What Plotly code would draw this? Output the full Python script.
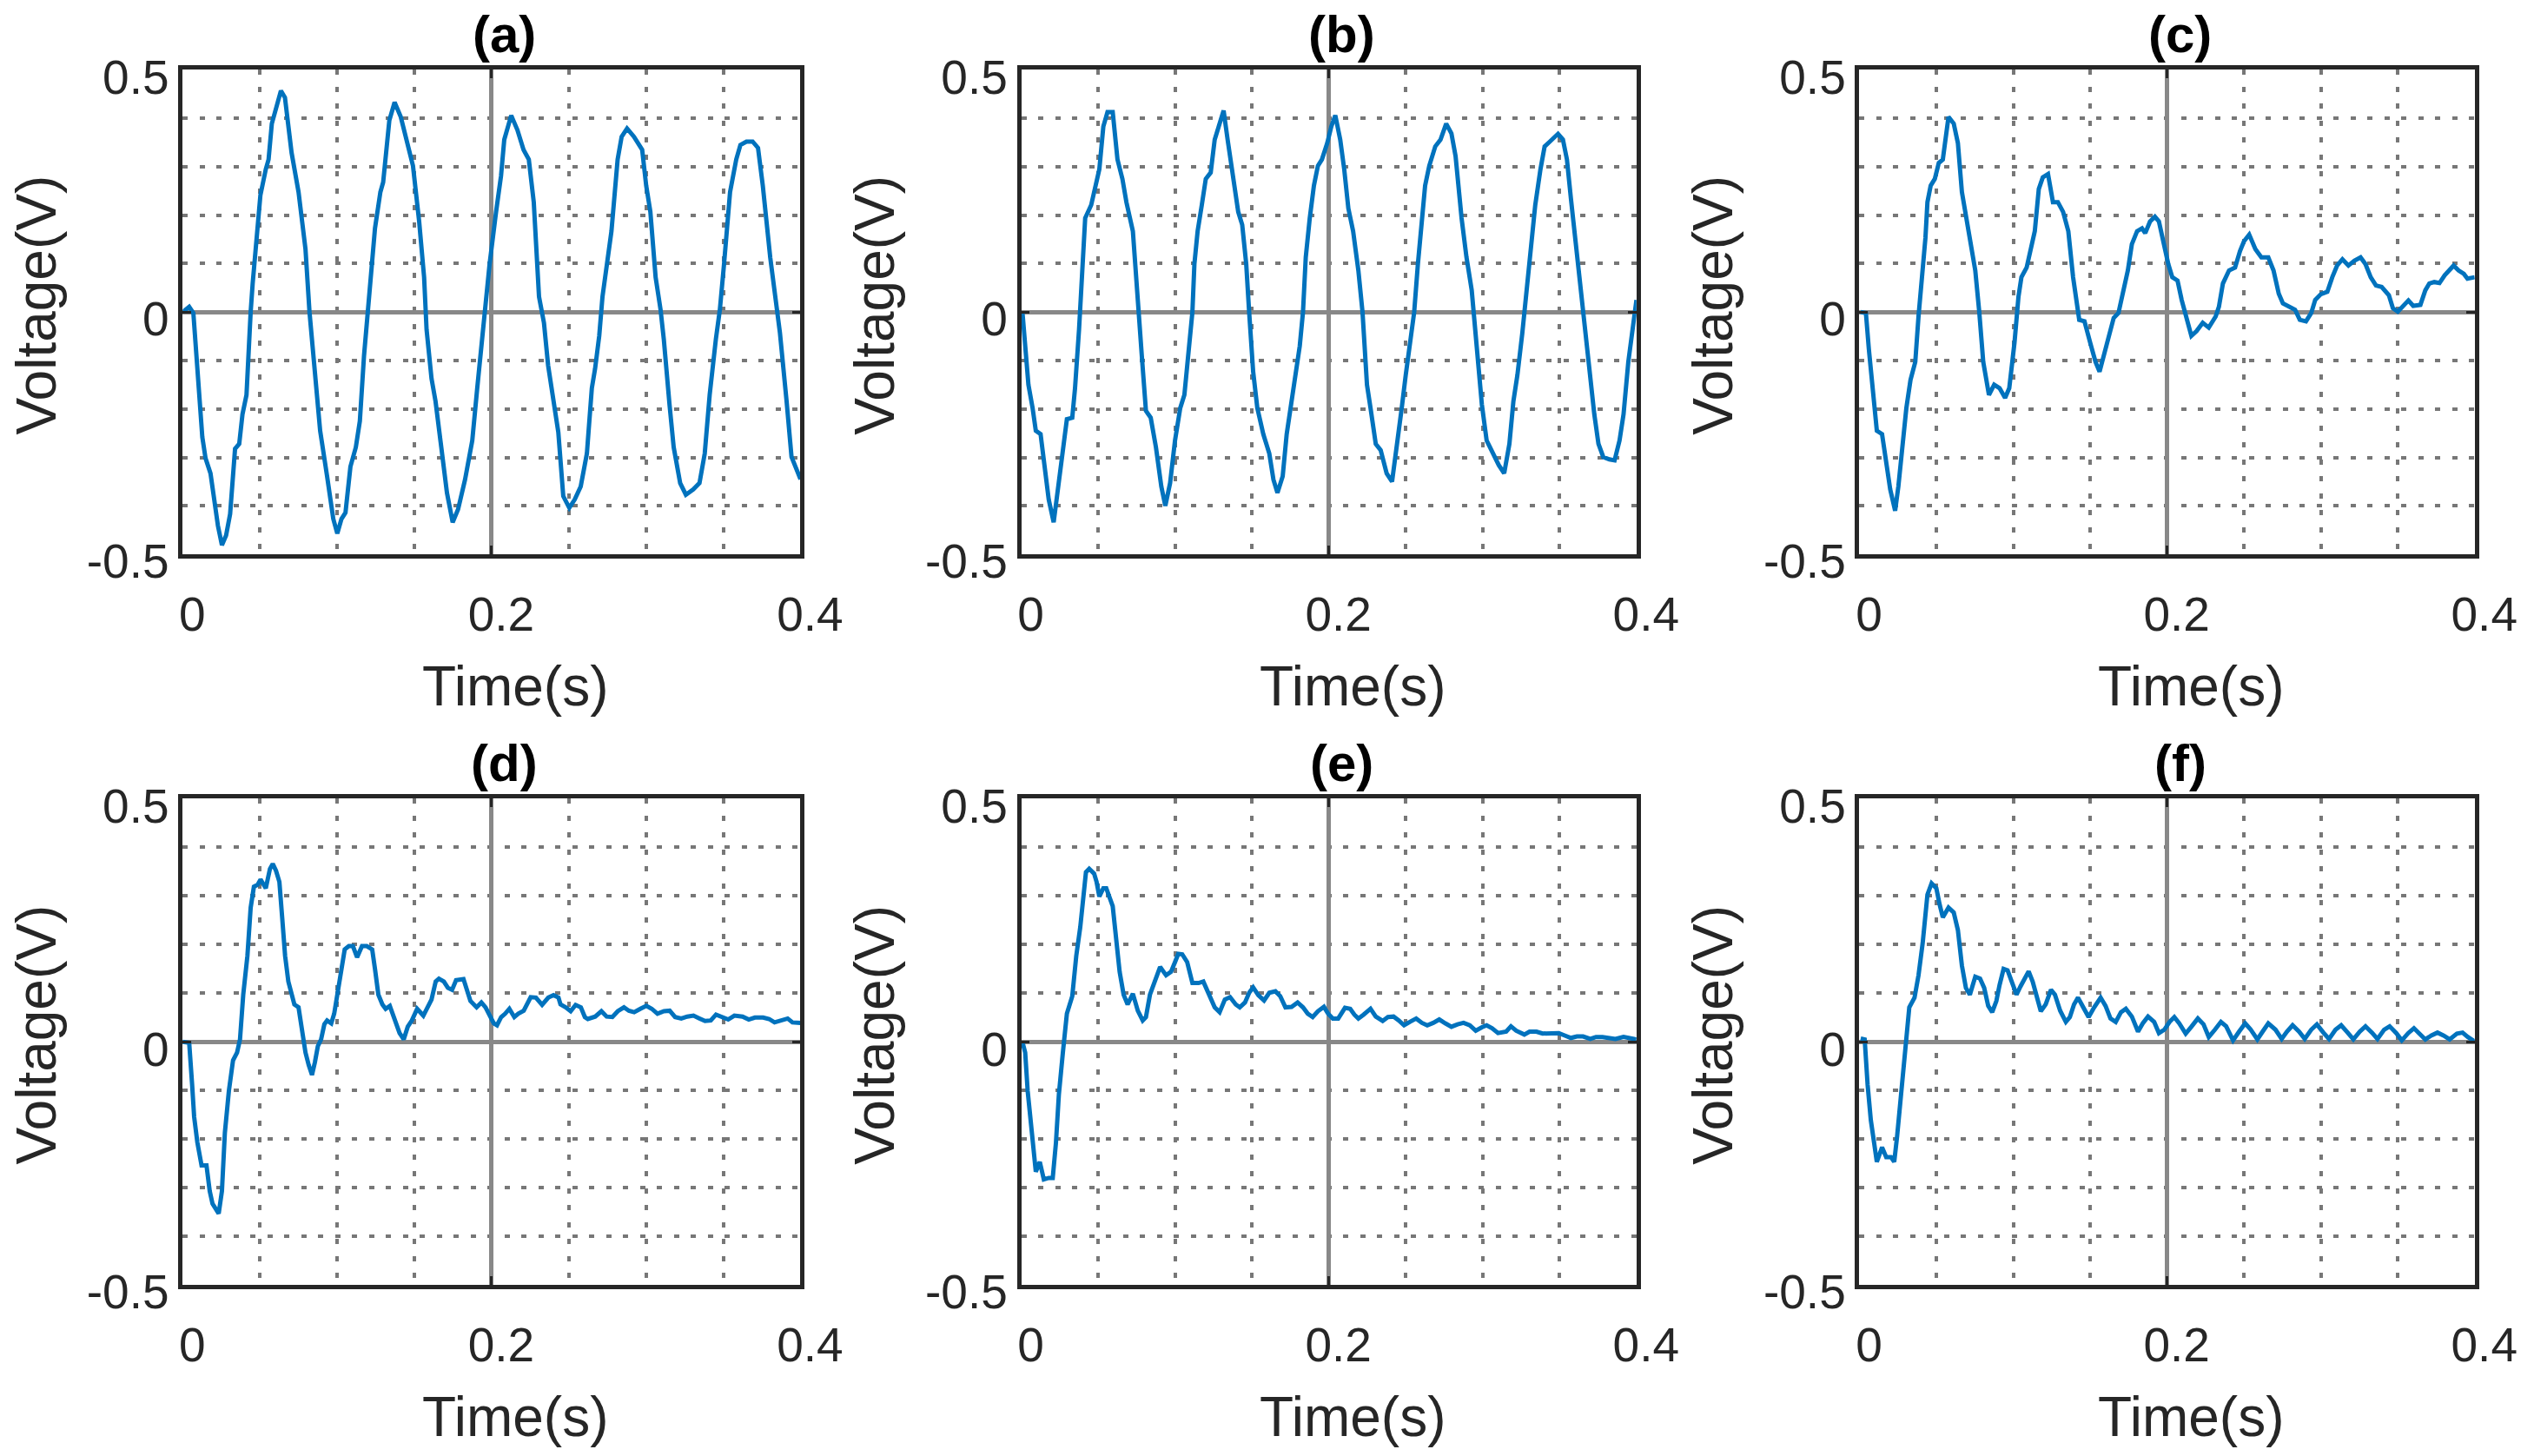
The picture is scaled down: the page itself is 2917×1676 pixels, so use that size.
import plotly.graph_objects as go

# ---------------- data: (time s, voltage V) ----------------
panel_a = [(0,0),(0.0042,0.011),(0.0069,-0.002),(0.0087,-0.076),(0.0106,-0.171),(0.0127,-0.258),
(0.0148,-0.302),(0.0180,-0.333),(0.0201,-0.380),(0.0228,-0.441),(0.0254,-0.481),(0.0281,-0.461),
(0.0307,-0.417),(0.0339,-0.282),(0.0366,-0.272),(0.0387,-0.211),(0.0413,-0.171),(0.0426,-0.076),
(0.0440,0),(0.0453,0.059),(0.0472,0.126),(0.0493,0.200),(0.0503,0.241),(0.0538,0.295),(0.0556,0.315),
(0.0577,0.389),(0.0604,0.423),(0.0636,0.457),(0.0662,0.443),(0.0705,0.329),(0.0750,0.248),(0.0795,0.130),
(0.0821,0),(0.0856,-0.117),(0.0890,-0.245),(0.0935,-0.339),(0.0975,-0.427),(0.1001,-0.457),(0.1028,-0.427),
(0.1054,-0.414),(0.1086,-0.319),(0.1121,-0.279),(0.1147,-0.225),(0.1174,-0.090),(0.1200,0),(0.1219,0.086),
(0.1245,0.173),(0.1280,0.248),(0.1298,0.268),(0.1338,0.396),(0.1372,0.433),(0.1412,0.403),(0.1446,0.356),
(0.1491,0.302),(0.1531,0.187),(0.1563,0.072),(0.1579,-0.036),(0.1611,-0.137),(0.1637,-0.184),(0.1677,-0.292),
(0.1711,-0.373),(0.1748,-0.434),(0.1783,-0.407),(0.1828,-0.346),(0.1875,-0.265),(0.1907,-0.157),(0.1934,-0.063),
(0.1955,0),(0.1987,0.099),(0.2029,0.207),(0.2061,0.281),(0.2082,0.356),(0.2127,0.406),(0.2167,0.376),
(0.2207,0.335),(0.2241,0.315),(0.2273,0.227),(0.2307,0.032),(0.2339,-0.022),(0.2366,-0.110),(0.2405,-0.184),
(0.2432,-0.248),(0.2464,-0.380),(0.2503,-0.404),(0.2538,-0.387),(0.2577,-0.360),(0.2617,-0.292),(0.2649,-0.157),
(0.2670,-0.117),(0.2697,-0.049),(0.2718,0.032),(0.2744,0.099),(0.2776,0.167),(0.2816,0.315),(0.2842,0.362),
(0.2877,0.379),(0.2922,0.362),(0.2975,0.335),(0.3001,0.261),(0.3028,0.207),(0.3062,0.072),(0.3094,0.005),
(0.3115,-0.056),(0.3152,-0.191),(0.3179,-0.279),(0.3221,-0.353),(0.3258,-0.377),(0.3306,-0.366),(0.3346,-0.353),
(0.3380,-0.292),(0.3412,-0.171),(0.3452,-0.056),(0.3478,0.005),(0.3505,0.099),(0.3544,0.248),(0.3584,0.315),
(0.3611,0.345),(0.3650,0.352),(0.3690,0.352),(0.3725,0.339),(0.3756,0.261),(0.3804,0.113),(0.3836,0.032),
(0.3867,-0.043),(0.3910,-0.184),(0.3942,-0.299),(0.4000,-0.345)]

panel_b = [(0.0008,0),(0.0026,-0.063),(0.0047,-0.150),(0.0074,-0.198),(0.0095,-0.245),(0.0126,-0.252),
(0.0153,-0.326),(0.0179,-0.387),(0.0211,-0.434),(0.0232,-0.380),(0.0263,-0.312),(0.0297,-0.221),(0.0332,-0.218),
(0.0350,-0.157),(0.0376,-0.036),(0.0395,0.072),(0.0416,0.194),(0.0455,0.221),(0.0482,0.261),(0.0508,0.295),
(0.0534,0.383),(0.0561,0.413),(0.0595,0.413),(0.0626,0.315),(0.0658,0.275),(0.0684,0.227),(0.0726,0.167),
(0.0745,0.079),(0.0758,0),(0.0784,-0.090),(0.0811,-0.204),(0.0842,-0.218),(0.0876,-0.279),(0.0911,-0.360),
(0.0937,-0.400),(0.0968,-0.353),(0.1000,-0.265),(0.1034,-0.198),(0.1061,-0.171),(0.1087,-0.090),(0.1113,0),
(0.1126,0.099),(0.1147,0.167),(0.1174,0.221),(0.1200,0.275),(0.1232,0.288),(0.1258,0.356),(0.1284,0.383),
(0.1316,0.416),(0.1342,0.356),(0.1376,0.281),(0.1411,0.207),(0.1437,0.180),(0.1463,0.099),(0.1482,0),
(0.1508,-0.123),(0.1535,-0.198),(0.1574,-0.252),(0.1613,-0.292),(0.1640,-0.346),(0.1666,-0.373),(0.1700,-0.339),
(0.1726,-0.252),(0.1758,-0.184),(0.1784,-0.117),(0.1811,-0.070),(0.1832,0),(0.1850,0.113),(0.1876,0.194),
(0.1903,0.261),(0.1929,0.302),(0.1955,0.315),(0.1990,0.349),(0.2016,0.383),(0.2042,0.406),(0.2074,0.356),
(0.2100,0.295),(0.2127,0.214),(0.2158,0.167),(0.2192,0.086),(0.2219,0),(0.2232,-0.076),(0.2248,-0.150),
(0.2271,-0.198),(0.2305,-0.272),(0.2337,-0.285),(0.2376,-0.333),(0.2411,-0.350),(0.2437,-0.292),(0.2474,-0.198),
(0.2500,-0.130),(0.2534,-0.056),(0.2555,0),(0.2579,0.099),(0.2605,0.194),(0.2626,0.261),(0.2653,0.302),
(0.2692,0.342),(0.2726,0.356),(0.2763,0.389),(0.2797,0.369),(0.2824,0.322),(0.2863,0.194),(0.2895,0.113),
(0.2929,0.045),(0.2942,0),(0.2968,-0.090),(0.2995,-0.191),(0.3026,-0.265),(0.3074,-0.299),(0.3105,-0.316),
(0.3140,-0.333),(0.3174,-0.272),(0.3200,-0.184),(0.3226,-0.130),(0.3258,-0.043),(0.3271,0),(0.3290,0.052),
(0.3316,0.126),(0.3342,0.221),(0.3376,0.295),(0.3403,0.342),(0.3437,0.352),(0.3490,0.368),(0.3522,0.356),
(0.3548,0.315),(0.3574,0.234),(0.3606,0.140),(0.3632,0.072),(0.3658,0),(0.3679,-0.063),(0.3700,-0.144),
(0.3726,-0.211),(0.3753,-0.272),(0.3784,-0.299),(0.3824,-0.304),(0.3858,-0.306),(0.3890,-0.265),(0.3916,-0.211),
(0.3947,-0.103),(0.3974,-0.036),(0.4000,0.025)]

panel_c = [(0.0008,0),(0.0042,-0.002),(0.0061,-0.076),(0.0087,-0.164),(0.0113,-0.245),(0.0147,-0.252),
(0.0174,-0.312),(0.0200,-0.366),(0.0232,-0.410),(0.0253,-0.360),(0.0279,-0.279),(0.0305,-0.198),(0.0332,-0.140),
(0.0363,-0.103),(0.0384,-0.009),(0.0403,0.059),(0.0429,0.153),(0.0442,0.227),(0.0463,0.261),(0.0490,0.275),
(0.0516,0.308),(0.0542,0.315),(0.0561,0.362),(0.0579,0.403),(0.0613,0.389),(0.0640,0.349),(0.0666,0.248),
(0.0692,0.200),(0.0726,0.140),(0.0753,0.086),(0.0779,0),(0.0805,-0.103),(0.0842,-0.171),(0.0876,-0.150),
(0.0911,-0.157),(0.0947,-0.177),(0.0974,-0.157),(0.1008,-0.063),(0.1034,0.032),(0.1053,0.072),(0.1087,0.092),
(0.1113,0.126),(0.1140,0.167),(0.1166,0.254),(0.1192,0.278),(0.1226,0.285),(0.1258,0.227),(0.1290,0.227),
(0.1324,0.207),(0.1358,0.167),(0.1389,0.072),(0.1429,-0.016),(0.1463,-0.019),(0.1500,-0.063),(0.1535,-0.103),
(0.1561,-0.123),(0.1595,-0.083),(0.1626,-0.049),(0.1653,-0.012),(0.1684,-0.002),(0.1718,0.045),(0.1745,0.086),
(0.1771,0.140),(0.1805,0.167),(0.1837,0.173),(0.1858,0.163),(0.1889,0.187),(0.1921,0.197),(0.1947,0.187),
(0.1982,0.133),(0.2008,0.099),(0.2034,0.072),(0.2068,0.065),(0.2095,0.025),(0.2132,-0.022),(0.2158,-0.049),
(0.2192,-0.039),(0.2232,-0.022),(0.2271,-0.032),(0.2316,-0.009),(0.2337,0.011),(0.2363,0.059),(0.2403,0.086),
(0.2442,0.092),(0.2474,0.126),(0.2500,0.146),(0.2534,0.160),(0.2574,0.130),(0.2613,0.113),(0.2658,0.113),
(0.2692,0.086),(0.2726,0.038),(0.2753,0.018),(0.2789,0.011),(0.2832,0.005),(0.2863,-0.016),(0.2903,-0.019),
(0.2937,-0.002),(0.2963,0.025),(0.3000,0.037),(0.3042,0.042),(0.3074,0.072),(0.3105,0.096),(0.3140,0.109),
(0.3179,0.096),(0.3218,0.106),(0.3258,0.113),(0.3290,0.099),(0.3324,0.072),(0.3358,0.055),(0.3395,0.052),
(0.3442,0.035),(0.3468,0.008),(0.3500,0.001),(0.3534,0.011),(0.3569,0.024),(0.3600,0.013),(0.3647,0.015),
(0.3679,0.045),(0.3705,0.059),(0.3737,0.062),(0.3771,0.060),(0.3805,0.076),(0.3837,0.086),(0.3863,0.096),
(0.3895,0.086),(0.3929,0.079),(0.3953,0.069),(0.4000,0.072)]

panel_d = [(0,0),(0.0042,-0.002),(0.0061,-0.088),(0.0074,-0.154),(0.0095,-0.207),(0.0122,-0.254),
(0.0154,-0.254),(0.0175,-0.307),(0.0193,-0.333),(0.0233,-0.353),(0.0254,-0.307),(0.0273,-0.187),(0.0299,-0.101),
(0.0326,-0.038),(0.0352,-0.022),(0.0371,0.005),(0.0392,0.097),(0.0419,0.177),(0.0440,0.276),(0.0461,0.319),
(0.0485,0.323),(0.0504,0.334),(0.0519,0.326),(0.0538,0.316),(0.0565,0.356),(0.0583,0.366),(0.0604,0.352),
(0.0626,0.329),(0.0644,0.256),(0.0663,0.177),(0.0684,0.124),(0.0705,0.097),(0.0723,0.077),(0.0750,0.071),
(0.0769,0.025),(0.0795,-0.022),(0.0816,-0.048),(0.0837,-0.068),(0.0856,-0.042),(0.0875,-0.009),(0.0896,0.005),
(0.0917,0.036),(0.0935,0.044),(0.0962,0.038),(0.0981,0.058),(0.1002,0.097),(0.1023,0.137),(0.1049,0.190),
(0.1076,0.197),(0.1102,0.197),(0.1129,0.174),(0.1161,0.197),(0.1192,0.197),(0.1227,0.190),(0.1245,0.150),
(0.1267,0.097),(0.1293,0.077),(0.1314,0.068),(0.1341,0.074),(0.1372,0.044),(0.1404,0.018),(0.1431,0.005),
(0.1457,0.031),(0.1484,0.044),(0.1518,0.068),(0.1558,0.054),(0.1585,0.071),(0.1611,0.087),(0.1638,0.124),
(0.1659,0.130),(0.1691,0.124),(0.1717,0.111),(0.1744,0.107),(0.1770,0.127),(0.1818,0.129),(0.1836,0.111),
(0.1863,0.084),(0.1903,0.071),(0.1934,0.081),(0.1961,0.071),(0.1995,0.051),(0.2014,0.038),(0.2035,0.034),
(0.2062,0.051),(0.2088,0.058),(0.2115,0.068),(0.2147,0.051),(0.2173,0.058),(0.2208,0.064),(0.2226,0.077),
(0.2253,0.092),(0.2287,0.091),(0.2327,0.076),(0.2367,0.091),(0.2401,0.096),(0.2433,0.091),(0.2446,0.077),
(0.2480,0.071),(0.2512,0.063),(0.2544,0.076),(0.2578,0.071),(0.2604,0.051),(0.2623,0.047),(0.2671,0.052),
(0.2711,0.063),(0.2745,0.052),(0.2782,0.051),(0.2817,0.063),(0.2857,0.071),(0.2889,0.064),(0.2923,0.061),
(0.2963,0.068),(0.3002,0.074),(0.3037,0.068),(0.3074,0.058),(0.3116,0.063),(0.3153,0.064),(0.3188,0.051),
(0.3228,0.048),(0.3267,0.052),(0.3307,0.054),(0.3347,0.048),(0.3382,0.043),(0.3419,0.044),(0.3453,0.056),
(0.3493,0.051),(0.3532,0.046),(0.3572,0.054),(0.3625,0.052),(0.3665,0.046),(0.3705,0.050),(0.3758,0.050),
(0.3797,0.047),(0.3832,0.040),(0.3869,0.043),(0.3917,0.048),(0.3948,0.040),(0.4000,0.039)]

panel_e = [(0.0008,0),(0.0026,-0.022),(0.0042,-0.101),(0.0061,-0.168),(0.0079,-0.221),(0.0095,-0.267),
(0.0121,-0.247),(0.0147,-0.283),(0.0179,-0.280),(0.0205,-0.280),(0.0226,-0.207),(0.0245,-0.108),(0.0271,-0.022),
(0.0297,0.058),(0.0332,0.094),(0.0358,0.177),(0.0384,0.236),(0.0403,0.303),(0.0421,0.349),(0.0442,0.356),
(0.0474,0.346),(0.0490,0.329),(0.0508,0.299),(0.0534,0.316),(0.0553,0.316),(0.0595,0.279),(0.0613,0.230),
(0.0640,0.144),(0.0666,0.097),(0.0692,0.077),(0.0726,0.099),(0.0758,0.064),(0.0790,0.044),(0.0811,0.051),
(0.0837,0.097),(0.0876,0.130),(0.0903,0.154),(0.0942,0.137),(0.0974,0.144),(0.1000,0.164),(0.1021,0.181),
(0.1047,0.180),(0.1079,0.164),(0.1113,0.121),(0.1153,0.121),(0.1184,0.124),(0.1218,0.097),(0.1258,0.071),
(0.1290,0.061),(0.1324,0.087),(0.1358,0.092),(0.1395,0.077),(0.1421,0.071),(0.1455,0.081),(0.1482,0.101),
(0.1508,0.112),(0.1542,0.096),(0.1579,0.085),(0.1613,0.101),(0.1653,0.104),(0.1684,0.094),(0.1718,0.071),
(0.1758,0.072),(0.1797,0.081),(0.1832,0.071),(0.1863,0.058),(0.1895,0.051),(0.1929,0.063),(0.1968,0.072),
(0.1995,0.058),(0.2026,0.048),(0.2061,0.048),(0.2105,0.070),(0.2139,0.068),(0.2166,0.056),(0.2192,0.048),
(0.2226,0.056),(0.2271,0.068),(0.2305,0.052),(0.2350,0.043),(0.2384,0.051),(0.2421,0.052),(0.2455,0.044),
(0.2489,0.034),(0.2526,0.041),(0.2568,0.048),(0.2605,0.039),(0.2640,0.034),(0.2679,0.039),(0.2718,0.046),
(0.2758,0.038),(0.2797,0.031),(0.2837,0.036),(0.2876,0.039),(0.2916,0.034),(0.2955,0.023),(0.2995,0.030),
(0.3026,0.034),(0.3061,0.028),(0.3100,0.018),(0.3153,0.021),(0.3184,0.032),(0.3218,0.023),(0.3271,0.015),
(0.3305,0.021),(0.3350,0.021),(0.3390,0.017),(0.3429,0.018),(0.3495,0.018),(0.3534,0.013),(0.3574,0.008),
(0.3613,0.011),(0.3653,0.011),(0.3700,0.006),(0.3737,0.010),(0.3779,0.010),(0.3824,0.008),(0.3863,0.006),
(0.3916,0.010),(0.3955,0.007),(0.4000,0.005)]

panel_f = [(0.0008,0.007),(0.0034,0.005),(0.0053,-0.088),(0.0074,-0.161),(0.0095,-0.207),(0.0113,-0.247),
(0.0147,-0.217),(0.0174,-0.237),(0.0205,-0.237),(0.0226,-0.247),(0.0245,-0.194),(0.0271,-0.101),(0.0297,-0.009),
(0.0324,0.071),(0.0358,0.091),(0.0384,0.137),(0.0411,0.203),(0.0442,0.303),(0.0469,0.326),(0.0500,0.316),
(0.0521,0.283),(0.0542,0.256),(0.0579,0.276),(0.0613,0.266),(0.0640,0.230),(0.0666,0.157),(0.0692,0.111),
(0.0718,0.097),(0.0753,0.134),(0.0784,0.130),(0.0811,0.111),(0.0837,0.074),(0.0863,0.061),(0.0890,0.084),
(0.0911,0.117),(0.0937,0.150),(0.0963,0.147),(0.0990,0.124),(0.1021,0.097),(0.1047,0.114),(0.1074,0.130),
(0.1100,0.145),(0.1126,0.124),(0.1153,0.091),(0.1179,0.063),(0.1211,0.077),(0.1245,0.107),(0.1271,0.097),
(0.1305,0.064),(0.1342,0.041),(0.1368,0.051),(0.1395,0.077),(0.1421,0.091),(0.1455,0.071),(0.1490,0.051),
(0.1526,0.071),(0.1568,0.091),(0.1600,0.074),(0.1632,0.048),(0.1666,0.041),(0.1700,0.061),(0.1732,0.068),
(0.1771,0.052),(0.1811,0.021),(0.1842,0.038),(0.1876,0.052),(0.1916,0.041),(0.1947,0.018),(0.1982,0.025),
(0.2016,0.041),(0.2047,0.051),(0.2079,0.038),(0.2121,0.017),(0.2158,0.031),(0.2200,0.048),(0.2237,0.036),
(0.2271,0.010),(0.2311,0.025),(0.2350,0.041),(0.2384,0.032),(0.2429,0.003),(0.2468,0.021),(0.2508,0.038),
(0.2542,0.026),(0.2587,0.005),(0.2621,0.021),(0.2658,0.038),(0.2705,0.025),(0.2745,0.006),(0.2779,0.021),
(0.2816,0.034),(0.2858,0.021),(0.2895,0.006),(0.2937,0.025),(0.2974,0.036),(0.3016,0.019),(0.3053,0.006),
(0.3095,0.025),(0.3132,0.034),(0.3174,0.019),(0.3211,0.005),(0.3253,0.021),(0.3290,0.032),(0.3332,0.019),
(0.3368,0.006),(0.3411,0.025),(0.3447,0.032),(0.3490,0.018),(0.3526,0.003),(0.3568,0.018),(0.3605,0.028),
(0.3640,0.017),(0.3679,0.005),(0.3718,0.013),(0.3758,0.019),(0.3797,0.013),(0.3837,0.005),(0.3884,0.017),
(0.3921,0.019),(0.3955,0.010),(0.4000,0.001)]

panel_titles = ["(a)", "(b)", "(c)", "(d)", "(e)", "(f)"]
x_tick_vals = [0, 0.2, 0.4]
x_tick_text = ["0", "0.2", "0.4"]
y_tick_vals = [-0.5, 0, 0.5]
y_tick_text = ["-0.5", "0", "0.5"]
x_label = "Time(s)"
y_label = "Voltage(V)"

# ---------------- figure ----------------
W, H = 2917, 1676
FONT = "Liberation Sans, Arial, Helvetica, sans-serif"
LINE_COLOR = "#0072BD"
TEXT_COLOR = "#262626"

x_domains = [[0.0721, 0.3159], [0.4030, 0.6458], [0.7338, 0.9766]]
y_domains = [[0.6193, 0.9520], [0.1175, 0.4514]]

fig = go.Figure()
panels = [panel_a, panel_b, panel_c, panel_d, panel_e, panel_f]
annotations = []
layout_axes = {}
for i, pts in enumerate(panels):
    n = i + 1
    sfx = "" if n == 1 else str(n)
    row, col = divmod(i, 3)
    t = [p[0] for p in pts]
    v = [p[1] for p in pts]
    fig.add_trace(go.Scatter(x=t, y=v, mode="lines", xaxis="x" + sfx, yaxis="y" + sfx,
                             line=dict(color=LINE_COLOR, width=5), showlegend=False,
                             hoverinfo="skip"))
    common = dict(showline=True, mirror="ticks", linecolor="#262626", linewidth=4.5,
                  showgrid=True, gridcolor="#888888", gridwidth=5, zeroline=False,
                  ticks="inside", ticklen=10, tickwidth=3, tickcolor="#262626",
                  tickfont=dict(family=FONT, size=55, color=TEXT_COLOR),
                  layer="above traces", fixedrange=True, automargin=False)
    layout_axes["xaxis" + sfx] = dict(
        common, domain=x_domains[col], anchor="y" + sfx, range=[0, 0.4],
        tickmode="array", tickvals=x_tick_vals, ticktext=x_tick_text,
        ticklabelstandoff=17, ticklabelshift=11,
        minor=dict(dtick=0.05, tick0=0, showgrid=True, gridcolor="#777777",
                   gridwidth=4, griddash="6px,13.5px"))
    layout_axes["yaxis" + sfx] = dict(
        common, domain=y_domains[row], anchor="x" + sfx, range=[-0.5, 0.5],
        tickmode="array", tickvals=y_tick_vals, ticktext=y_tick_text,
        ticklabelstandoff=0, ticklabelshift=8,
        minor=dict(dtick=0.1, tick0=0, showgrid=True, gridcolor="#777777",
                   gridwidth=4, griddash="6px,13.5px"))
    # panel title
    annotations.append(dict(text="<b>" + panel_titles[i] + "</b>", xref="x" + sfx + " domain",
                            yref="y" + sfx + " domain", x=0.5, y=1, xanchor="center",
                            yanchor="bottom", xshift=15, yshift=5, showarrow=False,
                            font=dict(family=FONT, size=60, color="#000000")))
    # x label
    annotations.append(dict(text=x_label, xref="x" + sfx + " domain", yref="y" + sfx + " domain",
                            x=0.5, y=0, xanchor="center", yanchor="top", xshift=27, yshift=-114,
                            showarrow=False, font=dict(family=FONT, size=64, color=TEXT_COLOR)))
    # y label
    annotations.append(dict(text=y_label, xref="x" + sfx + " domain", yref="y" + sfx + " domain",
                            x=0, y=0.5, xanchor="center", yanchor="middle", xshift=-168, yshift=8,
                            textangle=-90, showarrow=False,
                            font=dict(family=FONT, size=64, color=TEXT_COLOR)))

fig.update_layout(width=W, height=H, margin=dict(l=0, r=0, t=0, b=0, autoexpand=False),
                  paper_bgcolor="white", plot_bgcolor="white",
                  annotations=annotations, **layout_axes)

fig.write_html("out.html", config={"displayModeBar": False},
               post_script="document.body.style.margin='0';document.body.style.overflow='hidden';")
